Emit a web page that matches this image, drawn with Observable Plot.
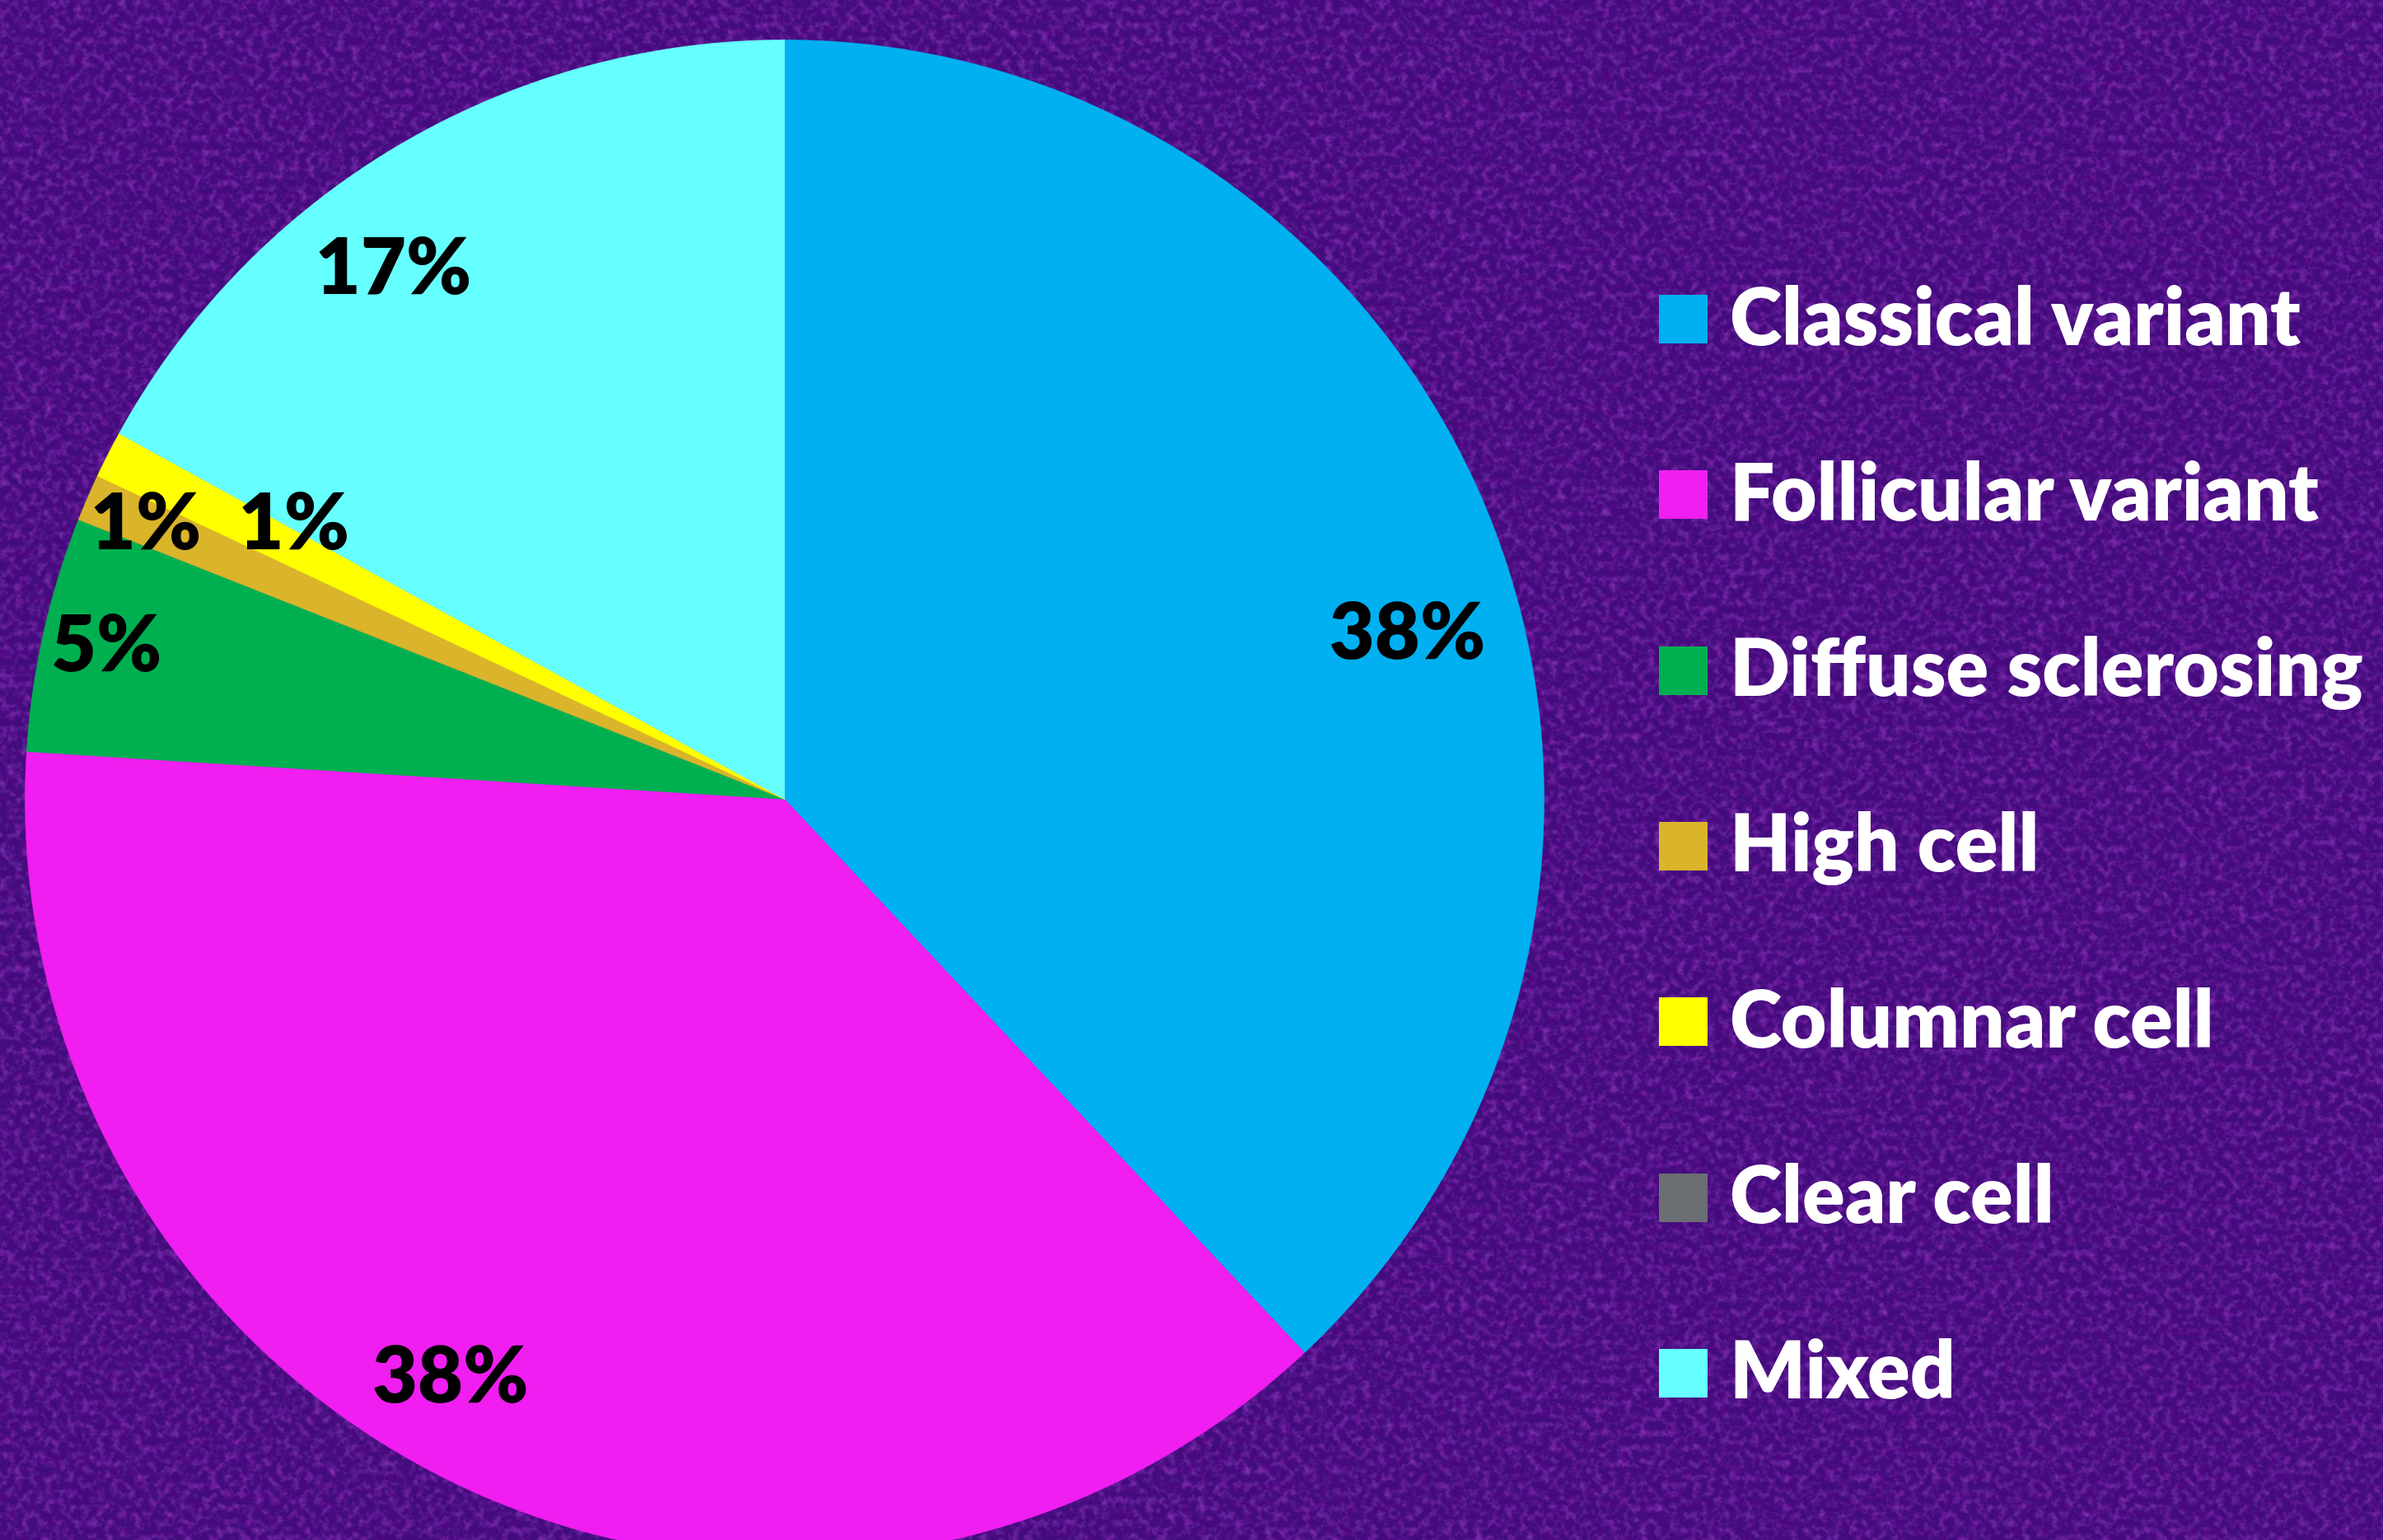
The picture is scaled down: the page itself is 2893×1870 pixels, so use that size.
<!DOCTYPE html>
<html>
<head>
<meta charset="utf-8">
<script src="https://cdn.jsdelivr.net/npm/d3@7"></script>
<script src="https://cdn.jsdelivr.net/npm/@observablehq/plot@0.6"></script>
<style>
  html, body { margin: 0; padding: 0; background: #420c7c; }
  #wrap { position: relative; width: 2893px; height: 1870px; overflow: hidden; background-color: #420c7c; }
  #tex { position: absolute; left: 0; top: 0; }
  #wrap svg.plot { position: absolute; left: 0; top: 0; }
  #legend { position: absolute; left: 2014px; top: 0; }
  .row { position: absolute; left: 0; display: flex; align-items: center; height: 120px; }
  .sw { width: 59px; height: 59px; flex: none; }
  .lab { margin-left: 27px; font-family: Lato, "Open Sans", sans-serif; font-weight: 800; font-size: 96px;
         line-height: 1; color: #ffffff; white-space: nowrap; position: relative; top: -6px; }
</style>
</head>
<body>
<div id="wrap">
  <svg id="tex" width="2893" height="1870" aria-hidden="true">
    <filter id="light" x="0" y="0" width="100%" height="100%">
      <feTurbulence type="fractalNoise" baseFrequency="0.11" numOctaves="3" seed="7"/>
      <feColorMatrix type="matrix" values="0 0 0 0 0.46  0 0 0 0 0.08  0 0 0 0 0.74  1.1 0 0 0 -0.48"/>
    </filter>
    <filter id="dark" x="0" y="0" width="100%" height="100%">
      <feTurbulence type="fractalNoise" baseFrequency="0.09" numOctaves="2" seed="23"/>
      <feColorMatrix type="matrix" values="0 0 0 0 0.12  0 0 0 0 0.0  0 0 0 0 0.25  1.1 0 0 0 -0.48"/>
    </filter>
    <rect width="2893" height="1870" filter="url(#dark)"/>
    <rect width="2893" height="1870" filter="url(#light)"/>
  </svg>
  <div id="legend"></div>
</div>
<script>
// ---- data ----
const categories = ["Classical variant", "Follicular variant", "Diffuse sclerosing", "High cell", "Columnar cell", "Clear cell", "Mixed"];
const percents   = [38, 38, 5, 1, 1, 0, 17];
const colors     = ["#00B0F0", "#F01EF0", "#00B050", "#DAB42A", "#FFFF00", "#6B6E73", "#66FFFF"];

// ---- layout (label anchor positions in pie-radius units, relative to pie centre) ----
const labelX = [0.820, -0.440, -0.893, -0.841, -0.646, null, -0.515];
const labelY = [0.222, -0.757, 0.206, 0.367, 0.367, null, 0.703];

const W = 2893, H = 1870, CX = 952, CY = 970, R = 922;

// slice outlines from d3.pie angles (clockwise from 12 o'clock)
const arcs = d3.pie().sort(null).value(d => d)(percents);
const pts = [];
arcs.forEach((a, i) => {
  if (percents[i] <= 0) return;
  const cat = categories[i];
  const n = Math.max(2, Math.ceil((a.endAngle - a.startAngle) / (Math.PI / 900)));
  pts.push({cat, x: 0, y: 0});
  for (let k = 0; k <= n; k++) {
    const t = a.startAngle + (a.endAngle - a.startAngle) * k / n;
    pts.push({cat, x: Math.sin(t), y: Math.cos(t)});
  }
  pts.push({cat, x: 0, y: 0});
});

const labels = categories.map((c, i) => ({cat: c, v: percents[i], x: labelX[i], y: labelY[i]}))
  .filter(d => d.v > 0);

const chart = Plot.plot({
  width: W, height: H, margin: 0,
  x: {domain: [-CX / R, (W - CX) / R], axis: null},
  y: {domain: [-(H - CY) / R, CY / R], axis: null},
  color: {type: "ordinal", domain: categories, range: colors},
  style: {background: "transparent", fontFamily: "Lato, sans-serif"},
  marks: [
    Plot.line(pts, {x: "x", y: "y", z: "cat", fill: "cat", stroke: "cat", strokeWidth: 0.6}),
    Plot.text(labels, {x: "x", y: "y", text: d => d.v + "%", fill: "black",
      fontSize: 95, fontWeight: 800, fontFamily: "Lato, sans-serif", dy: 4})
  ]
});
chart.classList.add("plot");
document.getElementById("wrap").insertBefore(chart, document.getElementById("legend"));

// legend
const legend = d3.select("#legend");
categories.forEach((c, i) => {
  const row = legend.append("div").attr("class", "row")
    .style("top", (387.5 + i * 213.3 - 60) + "px");
  row.append("div").attr("class", "sw").style("background", colors[i]);
  row.append("div").attr("class", "lab").text(c);
});
</script>
</body>
</html>
